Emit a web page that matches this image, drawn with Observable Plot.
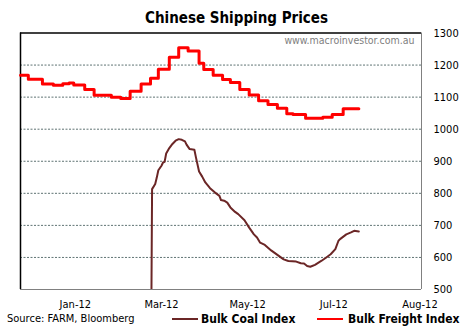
<!DOCTYPE html>
<html><head><meta charset="utf-8">
<script src="https://cdn.jsdelivr.net/npm/d3@7"></script>
<script src="https://cdn.jsdelivr.net/npm/@observablehq/plot@0.6"></script>
<style>
body{margin:0;background:#fff;font-family:"DejaVu Sans Condensed","DejaVu Sans",sans-serif;}
#wrap{width:464px;height:333px;position:relative;overflow:hidden;background:#fff;}
#title{height:20px;padding-top:8px;padding-left:9px;line-height:20px;text-align:center;font-weight:bold;font-size:15px;color:#000;}
#chart svg{display:block;overflow:visible;background:transparent;}
#foot{position:relative;height:14px;font-size:11px;color:#000;}
#foot span{position:absolute;top:0;line-height:14px;white-space:nowrap;}
.sw{height:0;border-top:2px solid;top:6px !important;width:26px;}
.lg{font-weight:bold;font-size:12px;}
</style></head>
<body>
<div id="wrap">
<div id="title">Chinese Shipping Prices</div>
<div id="chart"></div>
<div id="foot">
  <span style="left:7px">Source: FARM, Bloomberg</span>
  <span class="sw" style="left:172px;border-color:#6b2626"></span>
  <span class="lg" style="left:201px">Bulk Coal Index</span>
  <span class="sw" style="left:317px;border-color:#ff0000"></span>
  <span class="lg" style="left:348px">Bulk Freight Index</span>
</div>
</div>
<script>
const xDomain = ["2011-12-16", "2012-08-28"];
const xTicks = ["2012-01-20", "2012-03-15", "2012-05-09", "2012-07-03", "2012-08-27"];
const yTicks = [500, 600, 700, 800, 900, 1000, 1100, 1200, 1300];

const freightDates = ["2011-12-16","2011-12-21","2011-12-30","2012-01-06","2012-01-12","2012-01-16","2012-01-19","2012-01-26","2012-02-01","2012-02-12","2012-02-18","2012-02-24","2012-03-02","2012-03-08","2012-03-13","2012-03-20","2012-03-26","2012-04-01","2012-04-08","2012-04-11","2012-04-17","2012-04-23","2012-04-28","2012-05-04","2012-05-10","2012-05-16","2012-05-22","2012-05-28","2012-06-03","2012-06-07","2012-06-15","2012-06-26","2012-07-02","2012-07-09","2012-07-19"];
const freightValues = [1168,1156,1141,1137,1142,1144,1138,1124,1106,1100,1096,1118,1141,1159,1187,1224,1254,1244,1206,1186,1168,1155,1146,1124,1107,1089,1077,1065,1048,1046,1034,1037,1046,1064,1064];

const coalDates = ["2012-03-08","2012-03-09","2012-03-11","2012-03-12","2012-03-13","2012-03-15","2012-03-16","2012-03-17","2012-03-18","2012-03-20","2012-03-22","2012-03-24","2012-03-26","2012-03-28","2012-03-30","2012-03-31","2012-04-02","2012-04-05","2012-04-06","2012-04-08","2012-04-10","2012-04-12","2012-04-15","2012-04-18","2012-04-21","2012-04-22","2012-04-24","2012-04-26","2012-04-28","2012-05-01","2012-05-03","2012-05-07","2012-05-10","2012-05-13","2012-05-15","2012-05-17","2012-05-20","2012-05-24","2012-05-28","2012-06-01","2012-06-04","2012-06-09","2012-06-12","2012-06-14","2012-06-16","2012-06-18","2012-06-21","2012-06-25","2012-06-28","2012-07-01","2012-07-04","2012-07-06","2012-07-07","2012-07-11","2012-07-14","2012-07-16","2012-07-19"];
const coalValues = [0,813,829,849,872,886,896,898,924,941,954,964,969,967,962,952,938,936,912,868,852,834,816,803,792,779,777,771,756,742,735,716,693,672,662,646,639,622,608,594,589,587,582,581,573,571,577,589,599,610,626,652,657,672,678,683,681];

const watermark = "www.macroinvestor.com.au";

const parse = s => new Date(s);
const freight = freightDates.map((d, i) => ({date: parse(d), value: freightValues[i]}));
const coal = coalDates.map((d, i) => ({date: parse(d), value: coalValues[i]}));
const xd = xDomain.map(parse);
const yMin = yTicks[0], yMax = yTicks[yTicks.length - 1];

const chart = Plot.plot({
  width: 464,
  height: 284,
  marginLeft: 20,
  marginRight: 43,
  marginTop: 4.5,
  marginBottom: 23,
  style: {fontFamily: '"DejaVu Sans Condensed","DejaVu Sans",sans-serif', fontSize: "11px", background: "transparent", color: "#000"},
  x: {type: "utc", domain: xd, ticks: xTicks.map(parse), tickFormat: d3.utcFormat("%b-%y"), tickSize: 0, tickPadding: 11, label: null},
  y: {domain: [yMin, yMax], ticks: yTicks, tickFormat: d3.format("d"), axis: "right", tickSize: 0, tickPadding: 12, label: null},
  marks: [
    Plot.ruleY(yTicks.slice(1, -1), {stroke: "#5f7373", strokeDasharray: "2,1.5", strokeWidth: 1}),
    Plot.ruleY([yMin], {stroke: "#808080", strokeWidth: 1}),
    Plot.ruleX([xd[1]], {stroke: "#808080", strokeWidth: 1}),
    Plot.ruleY([yMax], {stroke: "#000", strokeWidth: 1.5}),
    Plot.ruleX([xd[0]], {stroke: "#000", strokeWidth: 1.5}),
    Plot.text([watermark], {frameAnchor: "top-right", dx: -7, dy: 4, fill: "#808080", fontSize: 10.5, textAnchor: "end", lineAnchor: "top"}),
    Plot.line(freight, {x: "date", y: "value", curve: "step-after", stroke: "#ff0000", strokeWidth: 3}),
    Plot.line(coal, {x: "date", y: "value", stroke: "#6b2626", strokeWidth: 2, clip: true})
  ]
});
document.getElementById("chart").appendChild(chart);
</script>
</body></html>
